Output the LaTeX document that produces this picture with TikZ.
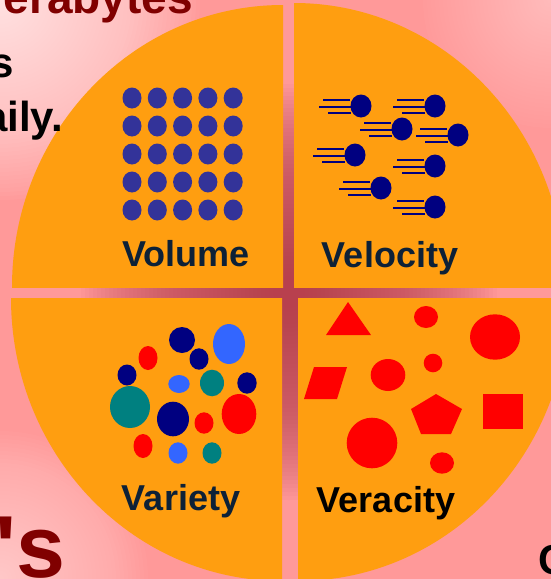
\documentclass[tikz,border=0pt]{standalone}
\usepackage{fontspec}
\setmainfont{Liberation Sans}
\usetikzlibrary{shapes.geometric}
\definecolor{SlidePink}{HTML}{FF9999}
\definecolor{SlideDark}{HTML}{B8404E}
\definecolor{PieOrange}{HTML}{FF9E10}
\definecolor{DotPurple}{HTML}{333399}
\definecolor{BallNavy}{HTML}{000080}
\definecolor{SkyBlue}{HTML}{3366FF}
\definecolor{SeaTeal}{HTML}{008080}
\definecolor{LabelNavy}{HTML}{0D2137}
\definecolor{TitleRed}{HTML}{800000}
\tikzset{
    % Pie quarters
    quarter/.style={
        fill=PieOrange
    },
    % Quarter captions
    v label/.style={
        font=\fontsize{36}{40}\selectfont\bfseries,
        text=LabelNavy,
        inner sep=0pt,
        anchor=base
    },
    % Cut-off slide text
    slide text/.style={
        font=\fontsize{42}{46}\selectfont\bfseries,
        text=black,
        inner sep=0pt
    },
    slide title/.style={
        font=\fontsize{46}{50}\selectfont\bfseries,
        text=TitleRed,
        inner sep=0pt
    },
    speed line/.style={
        draw=BallNavy,
        line width=2.6pt
    },
    shape red/.style={
        fill=red
    }
}

\begin{document}
\begin{tikzpicture}[x=1pt, y=-1pt]
        \useasboundingbox (0,0) rectangle (551,579);
        \clip (0,0) rectangle (551,579);

        % Background with soft glows
        \fill[SlidePink] (0,0) rectangle (551,579);
        \foreach \r in {4,8,...,210}
            \fill[SlideDark, opacity=0.04] (289,292) circle (\r);
        \foreach \r in {4,8,...,200}
            \fill[white, opacity=0.03] (0,0) circle (\r);
        \foreach \r in {4,8,...,150}
            \fill[white, opacity=0.023] (0,579) circle (\r);
        \foreach \r in {4,8,...,130}
            \fill[white, opacity=0.018] (551,0) circle (\r);

        % Quarters
        \begin{scope}
            \clip (0,0) rectangle (283,287);
            \fill[quarter] (283,287) ellipse [x radius=271, y radius=282];
        \end{scope}
        \begin{scope}
            \clip (294,0) rectangle (551,287);
            \fill[quarter] (294,287) ellipse [x radius=271, y radius=284];
        \end{scope}
        \begin{scope}
            \clip (0,298) rectangle (282,579);
            \fill[quarter] (282,298) ellipse [x radius=271, y radius=283];
        \end{scope}
        \begin{scope}
            \clip (298,298) rectangle (551,579);
            \fill[quarter] (298,298) ellipse [x radius=271, y radius=283];
        \end{scope}

        % Volume
        \foreach \col in {0,...,4}
            \foreach \row in {0,...,4}
                \fill[DotPurple] ({132+25.3*\col},{98+28*\row}) ellipse [x radius=9.5, y radius=10.5];
        \node[v label] (volume) at (186,266) {Volume};

        % Velocity
        \foreach \bx/\by in {361/106, 435/106, 402/129, 458/135, 355/155, 435/166, 381/188, 435/207} {
            \draw[speed line] ({\bx-38},{\by-6}) -- ({\bx-11},{\by-6});
            \draw[speed line] ({\bx-42},{\by+1}) -- ({\bx-10},{\by+1});
            \draw[speed line] ({\bx-33},{\by+7}) -- ({\bx-10},{\by+7});
            \fill[BallNavy] (\bx,\by) ellipse [x radius=10.5, y radius=11.5];
        }
        \node[v label] (velocity) at (390,267) {Velocity};

        % Variety
        \foreach \c/\vx/\vy/\rx/\ry in {BallNavy/182/340/13/13, SkyBlue/229/344/16/20,
                red/148/358/9.5/12, BallNavy/199/359/9.5/10.7, BallNavy/127/375/9.5/10.5,
                SkyBlue/179/384/10.7/9, SeaTeal/212/383/12/13.3, BallNavy/247/383/9.7/10.7,
                SeaTeal/130/407/20/21, BallNavy/173/419/16/17.3, red/204/423/9.5/10.7,
                red/239/414/17.3/20, red/143/446/9.5/12, SkyBlue/178/453/9.5/10.7,
                SeaTeal/212/453/9.5/10.7}
            \fill[\c] (\vx,\vy) ellipse [x radius=\rx, y radius=\ry];
        \node[v label] (variety) at (181,510) {Variety};

        % Veracity
        \fill[shape red] (348,302) -- (371,335) -- (326,335) -- cycle;
        \fill[shape red] (426,317) ellipse [x radius=12, y radius=11];
        \fill[shape red] (495,337) ellipse [x radius=25, y radius=22.7];
        \fill[shape red] (314,367) -- (347,367) -- (337,399) -- (304,399) -- cycle;
        \fill[shape red] (388,375) ellipse [x radius=17.3, y radius=16];
        \fill[shape red] (433,363) circle (9.3);
        \fill[shape red] (436,394) -- (462,409) -- (451,434) -- (421,434) -- (411,409) -- cycle;
        \fill[shape red] (483,394) rectangle (523,429);
        \fill[shape red] (372,443) circle (25.3);
        \fill[shape red] (442,463) ellipse [x radius=12, y radius=10.7];
        \node[v label, text=black] (veracity) at (386,512) {Veracity};

        % Slide text at the edges
        \node[slide title, anchor=base east] (terabytes) at (193,13) {Terabytes};
        \node[slide text, anchor=base east] (lineone) at (14,77) {s};
        \node[slide text, anchor=base east] (linetwo) at (63,131) {daily.};
        \node[slide title, font=\fontsize{88}{92}\selectfont\bfseries, anchor=base east] (vees) at (66,577) {\textquotesingle s};
        \node[slide text, anchor=base west] (cword) at (538,574) {C};
    \end{tikzpicture}
\end{document}
